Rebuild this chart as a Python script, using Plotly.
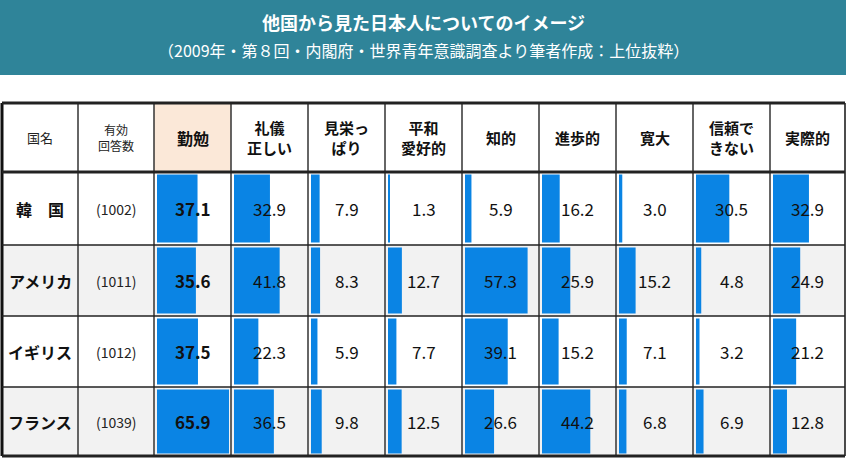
import plotly.graph_objects as go

# data
columns = ["勤勉", "礼儀<br>正しい", "見栄っ<br>ぱり", "平和<br>愛好的", "知的", "進歩的", "寛大", "信頼で<br>きない", "実際的"]
countries = ["韓　国", "アメリカ", "イギリス", "フランス"]
respondents = ["(1002)", "(1011)", "(1012)", "(1039)"]
values = [
    [37.1, 32.9, 7.9, 1.3, 5.9, 16.2, 3.0, 30.5, 32.9],
    [35.6, 41.8, 8.3, 12.7, 57.3, 25.9, 15.2, 4.8, 24.9],
    [37.5, 22.3, 5.9, 7.7, 39.1, 15.2, 7.1, 3.2, 21.2],
    [65.9, 36.5, 9.8, 12.5, 26.6, 44.2, 6.8, 6.9, 12.8],
]

FONT = "Noto Sans CJK JP"
col_edges = [2, 78, 154, 231, 308, 385, 462, 539, 616, 693, 770, 845]
row_edges = [103, 172, 245, 316, 387, 456]
vmax = max(max(r) for r in values)
bar_span = 72

fig = go.Figure()
shapes = []
ann = []

# title band
shapes.append(dict(type="rect", x0=0, x1=846, y0=0, y1=75, fillcolor="#2f8499", line_width=0, layer="below"))
ann.append(dict(x=423, y=22, text="<b>他国から見た日本人についてのイメージ</b>", showarrow=False,
                font=dict(family=FONT, size=18, color="white")))
ann.append(dict(x=423, y=50, text="（2009年・第８回・内閣府・世界青年意識調査より筆者作成：上位抜粋）", showarrow=False,
                font=dict(family=FONT, size=16, color="white")))

# row backgrounds
for i in range(len(countries)):
    if i % 2 == 1:
        shapes.append(dict(type="rect", x0=col_edges[0], x1=col_edges[-1], y0=row_edges[i + 1], y1=row_edges[i + 2],
                           fillcolor="#f2f2f2", line_width=0, layer="below"))
shapes.append(dict(type="rect", x0=col_edges[2], x1=col_edges[3], y0=row_edges[0], y1=row_edges[1],
                   fillcolor="#fbe8d8", line_width=0, layer="below"))

# bars, one trace per column using the axis scale
for j in range(len(columns)):
    left = col_edges[j + 2] + 3
    ys = [(row_edges[i + 1] + row_edges[i + 2]) / 2 for i in range(len(countries))]
    xs = [values[i][j] / vmax * bar_span for i in range(len(countries))]
    fig.add_trace(go.Bar(x=xs, y=ys, base=left, orientation="h", width=[row_edges[i + 2] - row_edges[i + 1] - 5 for i in range(len(countries))],
                         marker=dict(color="#0a84e4", line_width=0), hoverinfo="skip", showlegend=False))
    for i in range(len(countries)):
        txt = f"{values[i][j]:.1f}"
        if j == 0:
            txt = f"<b>{txt}</b>"
        ann.append(dict(x=(col_edges[j + 2] + col_edges[j + 3]) / 2, y=ys[i], text=txt, showarrow=False,
                        font=dict(family=FONT, size=17, color="#111")))

# header
hy = (row_edges[0] + row_edges[1]) / 2
ann.append(dict(x=(col_edges[0] + col_edges[1]) / 2, y=hy, text="国名", showarrow=False, font=dict(family=FONT, size=13, color="#222")))
ann.append(dict(x=(col_edges[1] + col_edges[2]) / 2, y=hy, text="有効<br>回答数", showarrow=False, font=dict(family=FONT, size=12, color="#222")))
for j, c in enumerate(columns):
    ann.append(dict(x=(col_edges[j + 2] + col_edges[j + 3]) / 2, y=hy, text=f"<b>{c}</b>", showarrow=False,
                    font=dict(family=FONT, size=16 if j == 0 else 15, color="#111")))
for i, c in enumerate(countries):
    y = (row_edges[i + 1] + row_edges[i + 2]) / 2
    ann.append(dict(x=(col_edges[0] + col_edges[1]) / 2, y=y, text=f"<b>{c}</b>", showarrow=False, font=dict(family=FONT, size=16, color="#111")))
    ann.append(dict(x=(col_edges[1] + col_edges[2]) / 2, y=y, text=respondents[i], showarrow=False, font=dict(family=FONT, size=14, color="#222")))

# grid lines
for k, x in enumerate(col_edges):
    shapes.append(dict(type="line", x0=x, x1=x, y0=row_edges[0], y1=row_edges[-1],
                       line=dict(color="#111" if k in (0, len(col_edges) - 1) else "#333", width=3 if k == 0 else 1.5)))
for k, y in enumerate(row_edges):
    shapes.append(dict(type="line", x0=col_edges[0], x1=col_edges[-1], y0=y, y1=y,
                       line=dict(color="#222", width=3 if k in (0, 1, len(row_edges) - 1) else 1.5)))

fig.update_layout(
    width=846, height=458, margin=dict(l=0, r=0, t=0, b=0),
    plot_bgcolor="white", paper_bgcolor="white", barmode="overlay",
    xaxis=dict(range=[0, 846], visible=False, fixedrange=True),
    yaxis=dict(range=[458, 0], visible=False, fixedrange=True),
    shapes=shapes, annotations=ann,
)
# drop the default page margin so the figure sits at the window's corner
fig.write_html("out.html", post_script="document.body.style.margin='0';", config={"displayModeBar": False})
